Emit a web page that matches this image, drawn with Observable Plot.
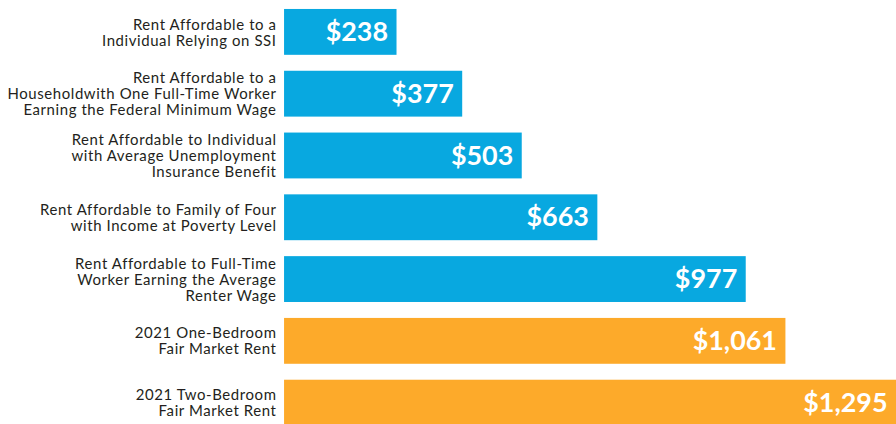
<!DOCTYPE html>
<html><head><meta charset="utf-8">
<script src="https://cdn.jsdelivr.net/npm/d3@7"></script>
<script src="https://cdn.jsdelivr.net/npm/@observablehq/plot@0.6"></script>
<style>
html,body{margin:0;padding:0;overflow:hidden;background:#fff;}
g[aria-label="y-axis tick label"] text{letter-spacing:0.6px;}
</style></head><body>
<div id="chart"></div>
<script>
const categories = [
  "Rent Affordable to a\nIndividual Relying on SSI",
  "Rent Affordable to a\nHouseholdwith One Full-Time Worker\nEarning the Federal Minimum Wage",
  "Rent Affordable to Individual\nwith Average Unemployment\nInsurance Benefit",
  "Rent Affordable to Family of Four\nwith Income at Poverty Level",
  "Rent Affordable to Full-Time\nWorker Earning the Average\nRenter Wage",
  "2021 One-Bedroom\nFair Market Rent",
  "2021 Two-Bedroom\nFair Market Rent"
];
const values = [238, 377, 503, 663, 977, 1061, 1295];
const groups = ["afford", "afford", "afford", "afford", "afford", "fmr", "fmr"];
const groupColors = {afford: "#08A8E0", fmr: "#FDAA2A"};

const data = categories.map((c, i) => ({label: c, value: values[i], group: groups[i]}));

const chart = Plot.plot({
  width: 899,
  height: 429,
  marginLeft: 285,
  marginRight: 0,
  marginTop: 7,
  marginBottom: 0,
  style: {fontFamily: "Lato, sans-serif", background: "#fff"},
  x: {domain: [0, 1295], axis: null},
  y: {domain: categories, paddingInner: 0.256, paddingOuter: 0, label: null},
  marks: [
    Plot.barX(data, {x: "value", y: "label", fill: d => groupColors[d.group]}),
    Plot.text(data, {x: "value", y: "label", text: d => "$" + d3.format(",")(d.value),
      textAnchor: "end", dx: -9, fill: "#fff", fontSize: 27, fontWeight: 700}),
    Plot.axisY({tickSize: 0, tickPadding: 8, fontSize: 15, lineHeight: 1.07, fill: "#231f20", label: null})
  ]
});
document.getElementById("chart").appendChild(chart);
</script>
</body></html>
